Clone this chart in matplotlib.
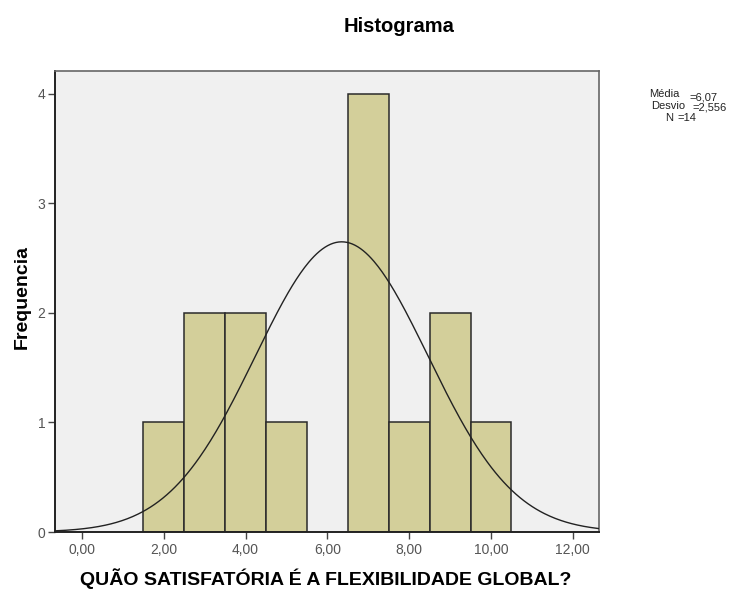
import numpy as np
import matplotlib
matplotlib.use("Agg")
import matplotlib.pyplot as plt

plt.rcParams['font.family'] = ['Liberation Sans', 'DejaVu Sans']

# Data
bin_centers = [2, 3, 4, 5, 7, 8, 9, 10]
frequencies = [1, 2, 2, 1, 4, 1, 2, 1]
bin_width = 1.0
x_ticks = [0, 2, 4, 6, 8, 10, 12]
x_tick_labels = ["0,00", "2,00", "4,00", "6,00", "8,00", "10,00", "12,00"]
y_ticks = [0, 1, 2, 3, 4]
# Normal curve overlay (as drawn)
curve_mean = 6.35
curve_sd = 2.11
curve_peak = 2.65
stat_names = ["Média", "Desvio", "N"]
stat_values = ["=6,07", "=2,556", "=14"]

W, H = 748, 589
fig = plt.figure(figsize=(W/100, H/100), dpi=100)
ax = fig.add_axes([55/W, 1-532/H, (599-55)/W, (532-71)/H])
ax.set_facecolor('#f0f0f0')

ax.bar(bin_centers, frequencies, width=bin_width, color='#d3cf9a',
       edgecolor='#2a2a2a', linewidth=1.1, zorder=2)

xs = np.linspace(-0.66, 12.64, 400)
ys = curve_peak * np.exp(-0.5 * ((xs - curve_mean) / curve_sd) ** 2)
ax.plot(xs, ys, color='#222222', linewidth=1.0, zorder=3)

ax.set_xlim(-0.66, 12.64)
ax.set_ylim(0, 4.21)
ax.set_xticks(x_ticks)
ax.set_xticklabels(x_tick_labels)
ax.set_yticks(y_ticks)
ax.tick_params(axis='both', direction='out', length=5, width=1,
               colors='#444444', labelsize=10, labelcolor='#555555')
ax.tick_params(axis='x', pad=3)
ax.tick_params(axis='y', pad=2)

for side in ['left', 'bottom']:
    ax.spines[side].set_color('#222222')
    ax.spines[side].set_linewidth(1.4)
for side in ['top', 'right']:
    ax.spines[side].set_color('#666666')
    ax.spines[side].set_linewidth(1.2)

fig.text(326/W, 1-579/H, "QUÃO SATISFATÓRIA É A FLEXIBILIDADE GLOBAL?",
         fontsize=14, fontweight='bold', ha='center', va='center')
fig.text(22/W, 1-297/H, "Frequencia", fontsize=14, fontweight='bold',
         ha='center', va='center', rotation=90)
fig.text(399/W, 1-26/H, "Histograma", fontsize=14.5, fontweight='bold',
         ha='center', va='center')

# statistics box
name_x = [649, 651, 665]
name_y = [94, 106, 118]
val_x = [689, 692, 677]
val_y = [97, 108, 118]
for nm, v, nx, ny, vx, vy in zip(stat_names, stat_values, name_x, name_y, val_x, val_y):
    fig.text(nx/W, 1-ny/H, nm, fontsize=8, ha='left', va='center', color='#222222')
    fig.text(vx/W, 1-vy/H, v, fontsize=8, ha='left', va='center', color='#222222')

fig.savefig("out.png", dpi=100)
